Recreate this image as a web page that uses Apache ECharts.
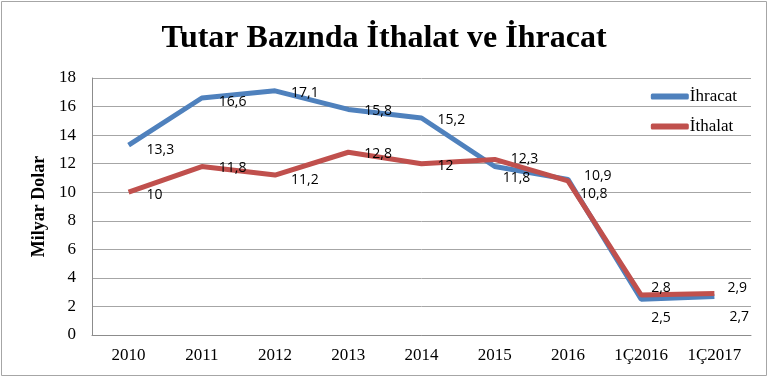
<!DOCTYPE html>
<html>
<head>
<meta charset="utf-8">
<script src="https://cdn.jsdelivr.net/npm/echarts@6/dist/echarts.min.js"></script>
<style>
  html, body { margin: 0; padding: 0; background: #fff; }
  #chart { width: 768px; height: 377px; }
</style>
</head>
<body>
<div id="chart"></div>
<script>
// data
const categories = ['2010', '2011', '2012', '2013', '2014', '2015', '2016', '1Ç2016', '1Ç2017'];
const ihracat = [13.3, 16.6, 17.1, 15.8, 15.2, 11.8, 10.9, 2.5, 2.7];
const ithalat = [10, 11.8, 11.2, 12.8, 12, 12.3, 10.8, 2.8, 2.9];
const yTicks = [0, 2, 4, 6, 8, 10, 12, 14, 16, 18];

// where each value label sits relative to its point (like the hand-moved labels in the original)
const ihracatShift = [[18, -2], [17, -3], [16, -5], [16, -5], [16, -5], [8, 4], [16, -10], [10, 12], [15, 14]];
const ithalatShift = [[18, -4], [17, -6], [16, -2], [16, -5], [16, -5], [16, -7], [12, 6], [10, -14], [13, -13]];

const fmt = v => String(v).replace('.', ',');

function withLabels(values, shifts) {
    return values.map((v, i) => ({
        value: v,
        label: { position: shifts[i] }
    }));
}

const chart = echarts.init(document.getElementById('chart'));

const pointLabel = {
    show: true,
    formatter: p => fmt(p.value),
    fontFamily: 'Open Sans',
    fontSize: 14,
    color: '#000'
};

chart.setOption({
    animation: false,
    title: {
        text: 'Tutar Bazında İthalat ve İhracat',
        left: 'center',
        top: 18,
        textStyle: {
            fontFamily: 'Liberation Serif',
            fontWeight: 'bold',
            fontSize: 32,
            color: '#000'
        }
    },
    graphic: [{
        type: 'rect',
        shape: { x: 1.5, y: 1.5, width: 765, height: 374 },
        style: { fill: 'none', stroke: '#a6a6a6', lineWidth: 1 },
        silent: true
    }],
    legend: {
        orient: 'vertical',
        right: 26,
        top: 83,
        itemGap: 13,
        itemWidth: 38,
        itemHeight: 6,
        icon: 'roundRect',
        data: ['İhracat', 'İthalat'],
        textStyle: { fontFamily: 'Liberation Serif', fontSize: 17, color: '#000', padding: [0, 0, 0, -4] }
    },
    grid: { left: 92, right: 17, top: 78, bottom: 42 },
    xAxis: {
        type: 'category',
        data: categories,
        boundaryGap: true,
        axisTick: { show: false },
        axisLine: { lineStyle: { color: '#8c8c8c', width: 1 } },
        axisLabel: {
            margin: 12,
            fontFamily: 'Liberation Serif',
            fontSize: 17,
            color: '#000'
        }
    },
    yAxis: {
        type: 'value',
        min: yTicks[0],
        max: yTicks[yTicks.length - 1],
        interval: 2,
        name: 'Milyar Dolar',
        nameLocation: 'middle',
        nameGap: 42,
        nameTextStyle: {
            fontFamily: 'Liberation Serif',
            fontWeight: 'bold',
            fontSize: 18,
            color: '#000'
        },
        axisLine: { show: true, lineStyle: { color: '#8c8c8c' } },
        axisTick: { show: false },
        splitLine: { lineStyle: { color: '#a6a6a6', width: 1 } },
        axisLabel: {
            margin: 16,
            fontFamily: 'Liberation Serif',
            fontSize: 17,
            color: '#000'
        }
    },
    series: [
        {
            name: 'İhracat',
            type: 'line',
            data: withLabels(ihracat, ihracatShift),
            symbol: 'circle',
            symbolSize: 0,
            showSymbol: true,
            lineStyle: { color: '#4f81bd', width: 5 },
            itemStyle: { color: '#4f81bd' },
            label: pointLabel,
            z: 2
        },
        {
            name: 'İthalat',
            type: 'line',
            data: withLabels(ithalat, ithalatShift),
            symbol: 'circle',
            symbolSize: 0,
            showSymbol: true,
            lineStyle: { color: '#c0504d', width: 5 },
            itemStyle: { color: '#c0504d' },
            label: pointLabel,
            z: 3
        }
    ]
});
</script>
</body>
</html>
